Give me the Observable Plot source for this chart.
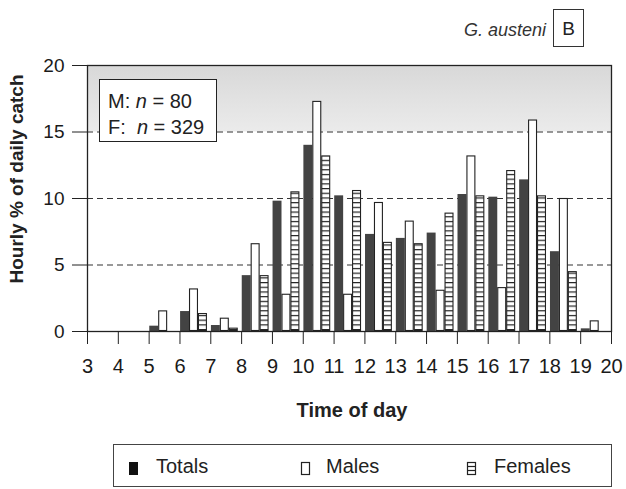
<!DOCTYPE html>
<html><head><meta charset="utf-8">
<script src="https://cdn.jsdelivr.net/npm/d3@7"></script>
<script src="https://cdn.jsdelivr.net/npm/@observablehq/plot@0.6"></script>
<style>
body{margin:0;background:#fff;font-family:"Liberation Sans",Arial,sans-serif;color:#222}
#wrap{position:relative;width:626px;height:489px;overflow:hidden;background:#fff}
#chart{position:absolute;left:0;top:0}
.abs{position:absolute;white-space:nowrap}
#species{right:80px;top:20px;font-size:18px;font-style:italic;color:#333}
#panel{left:553px;top:9px;width:31px;height:38px;border:1px solid #333;font-size:19px;line-height:38px;text-align:center;color:#222;box-sizing:border-box}
#nbox{left:99px;top:79px;width:118px;height:63px;border:1px solid #222;background:#fff;box-sizing:border-box;font-size:20px;line-height:26px;padding:8px 0 0 8px;color:#222}
#ylab{left:17px;top:179px;transform:translate(-50%,-50%) rotate(-90deg);font-size:19px;font-weight:bold;color:#222}
#xlab{left:352px;top:410px;transform:translate(-50%,-50%);font-size:20px;font-weight:bold;color:#222}
#legend{left:113px;top:444px;width:499px;height:43px;border:1px solid #444;box-sizing:border-box;font-size:20px;color:#222}
.li{position:absolute;top:9px;line-height:24px}
.sw{position:absolute;top:6px}
</style></head><body>
<div id="wrap">
  <div id="chart"></div>
  <div id="species" class="abs">G. austeni</div>
  <div id="panel" class="abs">B</div>
  <div id="nbox" class="abs"></div>
  <div id="ylab" class="abs"></div>
  <div id="xlab" class="abs"></div>
  <div id="legend" class="abs"></div>
</div>
<script>
// ---- data ----
const hours   = [3, 4, 5, 6, 7, 8, 9, 10, 11, 12, 13, 14, 15, 16, 17, 18, 19];
const totals  = [0, 0, 0.4, 1.5, 0.45, 4.2, 9.8, 14.0, 10.2, 7.3, 7.0, 7.4, 10.3, 10.1, 11.4, 6.0, 0.2];
const males   = [0, 0, 1.55, 3.2, 1.0, 6.6, 2.8, 17.3, 2.8, 9.7, 8.3, 3.1, 13.2, 3.3, 15.9, 10.0, 0.8];
const females = [0, 0, 0, 1.35, 0.25, 4.2, 10.5, 13.2, 10.6, 6.7, 6.6, 8.9, 10.2, 12.1, 10.2, 4.5, 0];
const seriesNames = ["Totals", "Males", "Females"];
const xTicks = [3, 4, 5, 6, 7, 8, 9, 10, 11, 12, 13, 14, 15, 16, 17, 18, 19, 20];
const yTicks = [0, 5, 10, 15, 20];
const gridValues = [5, 10, 15];
const shadedBand = [{lo: 15, hi: 20}];
const sampleLines = [["M:", "80"], ["F:", "329"]];
const speciesName = "G. austeni";
const xTitle = "Time of day";
const yTitle = "Hourly % of daily catch";

// ---- table ----
const seriesValues = [totals, males, females];
const rows = hours.flatMap((h, i) => seriesNames.map((s, k) => ({hour: h, series: s, k, value: seriesValues[k][i]})));
const barW = 0.29, barOff = 0.02;
const x1 = d => d.hour + barOff + d.k * barW;
const x2 = d => d.hour + barOff + (d.k + 1) * barW;
const xDomain = [xTicks[0], xTicks[xTicks.length - 1]];

const plot = Plot.plot({
  width: 626, height: 430,
  marginTop: 65, marginBottom: 99, marginLeft: 87, marginRight: 15,
  style: {fontFamily: '"Liberation Sans", Arial, sans-serif', fontSize: "19px", color: "#1a1a1a", background: "transparent"},
  x: {type: "linear", domain: xDomain},
  y: {domain: [yTicks[0], yTicks[yTicks.length - 1]]},
  marks: [
    Plot.rect(shadedBand, {x1: xDomain[0], x2: xDomain[1], y1: "lo", y2: "hi", fill: "url(#shadeGrad)", inset: 0}),
    Plot.ruleY(gridValues, {stroke: "#333", strokeWidth: 1.2, strokeDasharray: "6,4"}),
    Plot.rect(rows.filter(d => d.series === "Totals"), {x1, x2, y1: 0, y2: "value", fill: "#434343", inset: 0}),
    Plot.rect(rows.filter(d => d.series === "Males"), {x1, x2, y1: 0, y2: "value", fill: "white", stroke: "#222", strokeWidth: 1.1, inset: 0.5}),
    Plot.rect(rows.filter(d => d.series === "Females"), {x1, x2, y1: 0, y2: "value", fill: "url(#hatch)", stroke: "#222", strokeWidth: 1.1, inset: 0.5}),
    Plot.frame({stroke: "#222", strokeWidth: 1.3}),
    Plot.axisX({ticks: xTicks, tickFormat: d => String(d), tickSize: 13, tickPadding: 14, label: null, stroke: "#222", fontSize: 20}),
    Plot.axisY({ticks: yTicks, tickSize: 15, tickPadding: 8, label: null, stroke: "#222", fontSize: 19})
  ]
});

// patterns / gradient referenced by fills
const defs = d3.select(plot).insert("defs", ":first-child");
const pat = defs.append("pattern").attr("id", "hatch").attr("patternUnits", "userSpaceOnUse")
  .attr("width", 10).attr("height", 4.7);
pat.append("rect").attr("width", 10).attr("height", 4.7).attr("fill", "white");
pat.append("line").attr("x1", 0).attr("x2", 10).attr("y1", 0.6).attr("y2", 0.6).attr("stroke", "#222").attr("stroke-width", 1.2);
const grad = defs.append("linearGradient").attr("id", "shadeGrad").attr("x1", 0).attr("x2", 0).attr("y1", 0).attr("y2", 1);
grad.append("stop").attr("offset", "0%").attr("stop-color", "#d8d8d8");
grad.append("stop").attr("offset", "100%").attr("stop-color", "#ebebeb");

document.getElementById("chart").appendChild(plot);

// text
document.getElementById("species").textContent = speciesName;
document.getElementById("xlab").textContent = xTitle;
document.getElementById("ylab").textContent = yTitle;
const nbox = document.getElementById("nbox");
sampleLines.forEach(([g, n]) => {
  const line = document.createElement("div");
  line.innerHTML = `${g}${g === "F:" ? "&nbsp;&nbsp;" : "&nbsp;"}<i>n</i> = ${n}`;
  nbox.appendChild(line);
});

// legend
const legend = document.getElementById("legend");
const legendPos = [{sx: 14, tx: 42}, {sx: 186, tx: 212}, {sx: 352, tx: 380}];
const swatchSvg = [
  '<svg width="11" height="15"><rect x="1" y="1" width="9" height="13" fill="#111"/></svg>',
  '<svg width="11" height="15"><rect x="1.5" y="1.5" width="8" height="12" fill="white" stroke="#222" stroke-width="1.2"/></svg>',
  '<svg width="11" height="15"><rect x="1.5" y="1.5" width="8" height="12" fill="white" stroke="#222" stroke-width="1.2"/><line x1="1.5" x2="9.5" y1="5.5" y2="5.5" stroke="#222" stroke-width="1.2"/><line x1="1.5" x2="9.5" y1="9.5" y2="9.5" stroke="#222" stroke-width="1.2"/></svg>'
];
seriesNames.forEach((s, i) => {
  const sw = document.createElement("div");
  sw.className = "sw"; sw.style.left = legendPos[i].sx + "px"; sw.style.top = "13px";
  sw.innerHTML = swatchSvg[i];
  legend.appendChild(sw);
  const t = document.createElement("div");
  t.className = "li"; t.style.left = legendPos[i].tx + "px"; t.textContent = s;
  legend.appendChild(t);
});
</script>
</body></html>
